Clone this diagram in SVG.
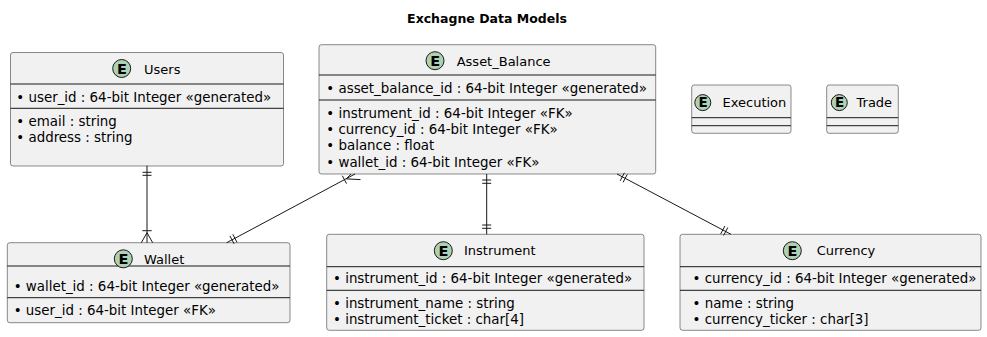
<svg xmlns="http://www.w3.org/2000/svg" width="987" height="337" viewBox="0 0 987 337">
  <style>
    .box { fill: #F1F1F1; stroke: #181818; stroke-width: 0.5; }
    .sep { stroke: #181818; stroke-width: 1; }
    .badge { fill: #ADD1B2; stroke: #181818; stroke-width: 1; }
    .badgeT { font-family: "DejaVu Sans", sans-serif; font-weight: bold; font-size: 14.5px; fill: #000; text-anchor: middle; }
    .badgeS { font-family: "DejaVu Sans", sans-serif; font-weight: bold; font-size: 13.5px; fill: #000; text-anchor: middle; }
    .name { font-family: "DejaVu Sans", sans-serif; font-size: 13px; fill: #000; }
    .field { font-family: "DejaVu Sans", sans-serif; font-size: 13.4px; fill: #000; }
    .title { font-family: "DejaVu Sans", sans-serif; font-weight: bold; font-size: 12.5px; fill: #000; text-anchor: middle; }
    .link { stroke: #181818; stroke-width: 1; fill: none; }
  </style>

  <text class="title" x="487" y="23">Exchagne Data Models</text>

  <!-- Users -->
  <g id="users">
    <rect class="box" x="10.5" y="52.5" width="273" height="113.5" rx="2.5"/>
    <line class="sep" x1="10.5" y1="84" x2="283.5" y2="84"/>
    <line class="sep" x1="10.5" y1="108.3" x2="283.5" y2="108.3"/>
    <circle class="badge" cx="121.7" cy="68.5" r="9"/>
    <text class="badgeT" x="121.9" y="73.6">E</text>
    <text class="name" x="144" y="73.5">Users</text>
    <text class="field" x="16.3" y="101.7">• user_id : 64-bit Integer «generated»</text>
    <text class="field" x="16.3" y="126">• email : string</text>
    <text class="field" x="16.3" y="141.8">• address : string</text>
  </g>

  <!-- Asset_Balance -->
  <g id="asset_balance">
    <rect class="box" x="319" y="44.7" width="336.7" height="129.3" rx="2.5"/>
    <line class="sep" x1="319" y1="75" x2="655.7" y2="75"/>
    <line class="sep" x1="319" y1="100" x2="655.7" y2="100"/>
    <circle class="badge" cx="435" cy="60.7" r="9"/>
    <text class="badgeT" x="435.2" y="65.8">E</text>
    <text class="name" x="456.7" y="66">Asset_Balance</text>
    <text class="field" x="326.3" y="93.3">• asset_balance_id : 64-bit Integer «generated»</text>
    <text class="field" x="326.3" y="117.7">• instrument_id : 64-bit Integer «FK»</text>
    <text class="field" x="326.3" y="134">• currency_id : 64-bit Integer «FK»</text>
    <text class="field" x="326.3" y="150.2">• balance : float</text>
    <text class="field" x="326.3" y="166.5">• wallet_id : 64-bit Integer «FK»</text>
  </g>

  <!-- Execution -->
  <g id="execution">
    <rect class="box" x="691.7" y="85" width="99.3" height="48.3" rx="2.5"/>
    <line class="sep" x1="691.7" y1="117.7" x2="791" y2="117.7"/>
    <line class="sep" x1="691.7" y1="125.7" x2="791" y2="125.7"/>
    <circle class="badge" cx="702.8" cy="102.6" r="8"/>
    <text class="badgeS" x="703" y="107.4">E</text>
    <text class="name" x="722.5" y="106.8">Execution</text>
  </g>

  <!-- Trade -->
  <g id="trade">
    <rect class="box" x="826.7" y="85" width="71.6" height="48.3" rx="2.5"/>
    <line class="sep" x1="826.7" y1="117.7" x2="898.3" y2="117.7"/>
    <line class="sep" x1="826.7" y1="125.7" x2="898.3" y2="125.7"/>
    <circle class="badge" cx="839.3" cy="102.6" r="8"/>
    <text class="badgeS" x="839.5" y="107.4">E</text>
    <text class="name" x="856.5" y="106.8">Trade</text>
  </g>

  <!-- Wallet -->
  <g id="wallet">
    <rect class="box" x="7.3" y="242.7" width="282.7" height="80" rx="2.5"/>
    <line class="sep" x1="7.3" y1="266" x2="290" y2="266"/>
    <line class="sep" x1="7.3" y1="297.7" x2="290" y2="297.7"/>
    <circle class="badge" cx="123.3" cy="258.8" r="9"/>
    <text class="badgeT" x="123.5" y="263.9">E</text>
    <text class="name" x="144" y="263.5">Wallet</text>
    <text class="field" x="13.7" y="290.7">• wallet_id : 64-bit Integer «generated»</text>
    <text class="field" x="13.7" y="315">• user_id : 64-bit Integer «FK»</text>
  </g>

  <!-- Instrument -->
  <g id="instrument">
    <rect class="box" x="326.7" y="234.3" width="317.3" height="96" rx="2.5"/>
    <line class="sep" x1="326.7" y1="266.7" x2="644" y2="266.7"/>
    <line class="sep" x1="326.7" y1="290.3" x2="644" y2="290.3"/>
    <circle class="badge" cx="443.3" cy="250.7" r="9"/>
    <text class="badgeT" x="443.5" y="255.8">E</text>
    <text class="name" x="464" y="255.3">Instrument</text>
    <text class="field" x="333" y="283.3">• instrument_id : 64-bit Integer «generated»</text>
    <text class="field" x="333" y="308.3">• instrument_name : string</text>
    <text class="field" x="333" y="324.4">• instrument_ticket : char[4]</text>
  </g>

  <!-- Currency -->
  <g id="currency">
    <rect class="box" x="680" y="234.3" width="301" height="96" rx="2.5"/>
    <line class="sep" x1="680" y1="266.7" x2="981" y2="266.7"/>
    <line class="sep" x1="680" y1="290.3" x2="981" y2="290.3"/>
    <circle class="badge" cx="792.3" cy="250.7" r="9"/>
    <text class="badgeT" x="792.5" y="255.8">E</text>
    <text class="name" x="816.7" y="255.3">Currency</text>
    <text class="field" x="692.5" y="283.3">• currency_id : 64-bit Integer «generated»</text>
    <text class="field" x="692.5" y="308.3">• name : string</text>
    <text class="field" x="692.5" y="324.4">• currency_ticker : char[3]</text>
  </g>

  <!-- Relationships (bars = exactly one, crow's foot = one or many) -->
  <g id="links">
    <!-- Users one, Wallet many -->
    <g id="users-wallet">
      <line class="link" x1="147" y1="165.7" x2="147" y2="242.7"/>
      <line class="link" x1="142.5" y1="172.3" x2="151.5" y2="172.3"/>
      <line class="link" x1="142.5" y1="175.3" x2="151.5" y2="175.3"/>
      <line class="link" x1="142.3" y1="230.7" x2="151.7" y2="230.7"/>
      <path class="link" d="M141.3,242.7 L147,232.7 L152.7,242.7"/>
    </g>
    <!-- Asset_Balance many, Wallet one -->
    <g id="asset-wallet">
      <line class="link" x1="355" y1="174" x2="226.7" y2="242.7"/>
      <path class="link" d="M351,174 L346.4,178.9 L360.5,179.6"/>
      <line class="link" x1="342.3" y1="175.7" x2="346.5" y2="183.6"/>
      <line class="link" x1="229.9" y1="235.9" x2="234.1" y2="243.8"/>
      <line class="link" x1="232.8" y1="234.3" x2="237" y2="242.3"/>
    </g>
    <!-- Asset_Balance one, Instrument one -->
    <g id="asset-instrument">
      <line class="link" x1="486.7" y1="174" x2="486.7" y2="234.3"/>
      <line class="link" x1="482.2" y1="180" x2="491.2" y2="180"/>
      <line class="link" x1="482.2" y1="183.3" x2="491.2" y2="183.3"/>
      <line class="link" x1="482.2" y1="225" x2="491.2" y2="225"/>
      <line class="link" x1="482.2" y1="228.3" x2="491.2" y2="228.3"/>
    </g>
    <!-- Asset_Balance one, Currency one -->
    <g id="asset-currency">
      <line class="link" x1="617" y1="174" x2="731" y2="234.3"/>
      <line class="link" x1="624.4" y1="172.8" x2="620.2" y2="180.8"/>
      <line class="link" x1="627.3" y1="174.4" x2="623.1" y2="182.3"/>
      <line class="link" x1="727.8" y1="227.5" x2="723.6" y2="235.5"/>
      <line class="link" x1="724.9" y1="226" x2="720.7" y2="233.9"/>
    </g>
  </g>
</svg>
